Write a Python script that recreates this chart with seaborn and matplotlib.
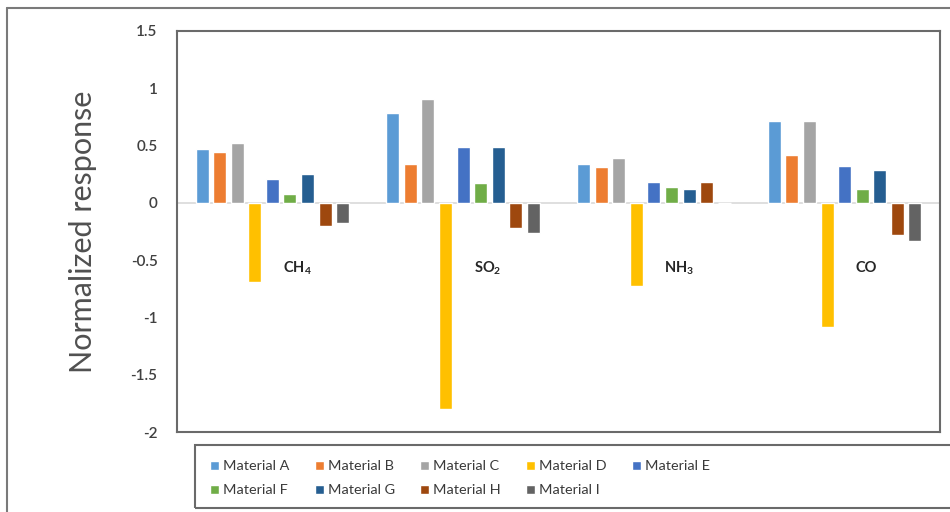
import matplotlib
matplotlib.use("Agg")
import matplotlib.pyplot as plt
from matplotlib.lines import Line2D
from matplotlib.patches import Rectangle
import seaborn as sns
import pandas as pd

gases = ["CH$_\\mathbf{4}$", "SO$_\\mathbf{2}$", "NH$_\\mathbf{3}$", "CO"]
gas_keys = ["CH4", "SO2", "NH3", "CO"]
materials = ["Material A", "Material B", "Material C", "Material D", "Material E",
             "Material F", "Material G", "Material H", "Material I"]

mat_a = [0.47, 0.78, 0.34, 0.715]
mat_b = [0.445, 0.34, 0.31, 0.415]
mat_c = [0.52, 0.905, 0.39, 0.715]
mat_d = [-0.69, -1.80, -0.73, -1.08]
mat_e = [0.21, 0.49, 0.18, 0.32]
mat_f = [0.08, 0.17, 0.14, 0.12]
mat_g = [0.25, 0.49, 0.12, 0.285]
mat_h = [-0.20, -0.22, 0.18, -0.28]
mat_i = [-0.18, -0.26, 0.0, -0.33]

colors = ["#5B9BD5", "#ED7D31", "#A5A5A5", "#FFC000", "#4472C4",
          "#70AD47", "#255E91", "#9E480E", "#636363"]

yticks = [1.5, 1, 0.5, 0, -0.5, -1, -1.5, -2]
ytick_labels = ["1.5", "1", "0.5", "0", "-0.5", "-1", "-1.5", "-2"]

series = [mat_a, mat_b, mat_c, mat_d, mat_e, mat_f, mat_g, mat_h, mat_i]
rows = []
for m, vals in zip(materials, series):
    for g, v in zip(gas_keys, vals):
        rows.append({"gas": g, "material": m, "value": v})
df = pd.DataFrame(rows)

sns.set_theme(style="white")
plt.rcParams["font.family"] = ["Lato", "DejaVu Sans"]
plt.rcParams["mathtext.fontset"] = "custom"
plt.rcParams["mathtext.rm"] = "Lato"
plt.rcParams["mathtext.bf"] = "Lato:bold"

fig = plt.figure(figsize=(9.5, 5.12), dpi=100)
ax = fig.add_axes([177/950, 1-432/512, (940-177)/950, (432-31)/512])

sns.barplot(data=df, x="gas", y="value", hue="material", order=gas_keys,
            hue_order=materials, palette=colors, saturation=1, width=0.83,
            gap=0.26, ax=ax, legend=True)

ax.axhline(0, color="#d9d9d9", lw=1.2, zorder=0.5)
ax.set_ylim(-2, 1.5)
ax.set_xlim(-0.5, 3.5)
ax.set_yticks(yticks)
ax.set_yticklabels(ytick_labels)
ax.tick_params(axis="y", length=0, pad=14, labelsize=11, labelcolor="#404040")
for t in ax.get_yticklabels():
    t.set_fontweight("semibold")
ax.set_xticks([])
ax.set_xlabel("")
ax.set_ylabel("Normalized response", fontsize=22, color="#505050", labelpad=24)

for s in ax.spines.values():
    s.set_color("#6a6a6a")
    s.set_linewidth(1.5)

for i, g in enumerate(gases):
    ax.text(i + 0.055, -0.567, g, ha="left", va="center", fontsize=10.5,
            fontweight="bold", color="#262626")

# legend (row-major order for 5 columns)
handles, labels = ax.get_legend_handles_labels()
ax.get_legend().remove()
order = [0, 5, 1, 6, 2, 7, 3, 8, 4]
fig.legend([handles[k] for k in order], [labels[k] for k in order],
           loc="upper left", ncol=5,
           bbox_to_anchor=(203/950, 1-453/512), bbox_transform=fig.transFigure,
           frameon=False, fontsize=10.4, handlelength=0.6, handleheight=0.6,
           handletextpad=0.3, columnspacing=1.75, borderpad=0, labelspacing=0.85,
           labelcolor="#3a3a3a")

fig.add_artist(Rectangle((195/950, 1-508/512), (975-195)/950, 63/512,
                         transform=fig.transFigure, fill=False,
                         edgecolor="#6a6a6a", lw=1.5, clip_on=False))

# outer frame
fig.add_artist(Line2D([7/950, 7/950], [0, 1-8/512], transform=fig.transFigure,
                      color="#7a7a7a", lw=1.5))
fig.add_artist(Line2D([7/950, 1], [1-8/512, 1-8/512], transform=fig.transFigure,
                      color="#7a7a7a", lw=1.5))

fig.savefig("out.png", dpi=100)
